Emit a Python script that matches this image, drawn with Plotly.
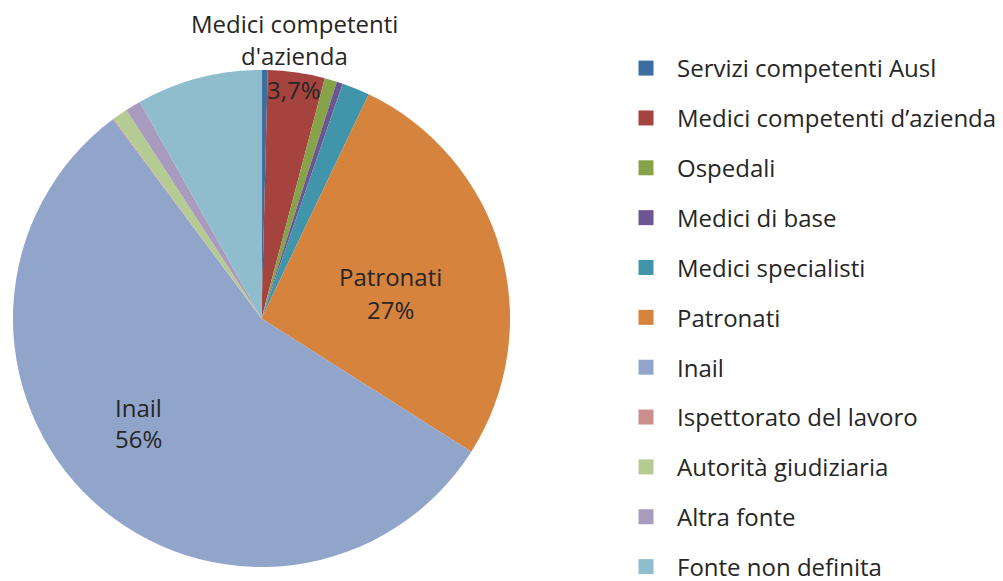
import plotly.graph_objects as go

# ---- data ----
categories = [
    "Servizi competenti Ausl",
    "Medici competenti d’azienda",
    "Ospedali",
    "Medici di base",
    "Medici specialisti",
    "Patronati",
    "Inail",
    "Ispettorato del lavoro",
    "Autorità giudiziaria",
    "Altra fonte",
    "Fonte non definita",
]
values = [0.4, 3.7, 0.8, 0.4, 1.8, 26.9, 55.8, 0.05, 1.0, 1.0, 8.15]
colors = [
    "#3C6E9F", "#A5433F", "#87A34A", "#6C5590", "#4195AB", "#D5833D",
    "#91A5CB", "#CC8F8E", "#B5CB94", "#A99BBE", "#8FBDCE",
]

# labelled slices: (index, name lines, decimals)
label_idx = [1, 5, 6]
label_names = [["Medici competenti", "d'azienda"], ["Patronati"], ["Inail"]]
label_decimals = [1, 0, 0]

W, H = 1003, 581
OFF = 8  # page body margin
FONT = "Open Sans"
TXT = "#262626"
FS = 24

def px(x):
    return (x - OFF) / W

def py(y):
    return 1 - (y - OFF) / H

fig = go.Figure()

fig.add_trace(go.Pie(
    labels=categories,
    values=values,
    marker=dict(colors=colors, line=dict(width=0)),
    sort=False,
    direction="clockwise",
    rotation=0,
    textinfo="none",
    showlegend=False,
    domain=dict(x=[px(13), px(510)], y=[py(567), py(70)]),
    hoverinfo="label+percent",
))

# legend entries (dummy traces so that squares and spacing match)
for name, col in zip(categories, colors):
    fig.add_trace(go.Scatter(
        x=[None], y=[None], mode="markers", name=name, legendgroup=name,
        marker=dict(symbol="square", size=15, color=col, line=dict(width=0)),
        hoverinfo="skip",
    ))

total = sum(values)

def pct_text(v, d):
    s = f"{v / total * 100:.{d}f}".replace(".", ",")
    return s + "%"

# annotation positions in pixels (layout only)
name_pos = [[(294, 23), (294, 56)], [(390, 276)], [(138, 407)]]
pct_pos = [(294, 90), (390, 309), (138, 438)]

annotations = []
for k, i in enumerate(label_idx):
    for line, (x, y) in zip(label_names[k], name_pos[k]):
        annotations.append(dict(
            x=px(x), y=py(y), xref="paper", yref="paper", text=line,
            showarrow=False, xanchor="center", yanchor="middle",
            font=dict(family=FONT, size=FS, color=TXT),
        ))
    x, y = pct_pos[k]
    annotations.append(dict(
        x=px(x), y=py(y), xref="paper", yref="paper",
        text=pct_text(values[i], label_decimals[k]),
        showarrow=False, xanchor="center", yanchor="middle",
        font=dict(family=FONT, size=FS, color=TXT),
    ))

fig.update_layout(
    width=W, height=H,
    margin=dict(l=0, r=0, t=0, b=0),
    paper_bgcolor="white",
    plot_bgcolor="white",
    xaxis=dict(visible=False),
    yaxis=dict(visible=False),
    font=dict(family=FONT, color=TXT),
    annotations=annotations,
    legend=dict(
        x=px(615), y=py(54), xanchor="left", yanchor="top",
        font=dict(family=FONT, size=FS, color=TXT),
        itemwidth=52,
        tracegroupgap=15.65,
        bgcolor="rgba(0,0,0,0)",
        itemclick=False, itemdoubleclick=False,
    ),
)

fig.write_html("out.html")
